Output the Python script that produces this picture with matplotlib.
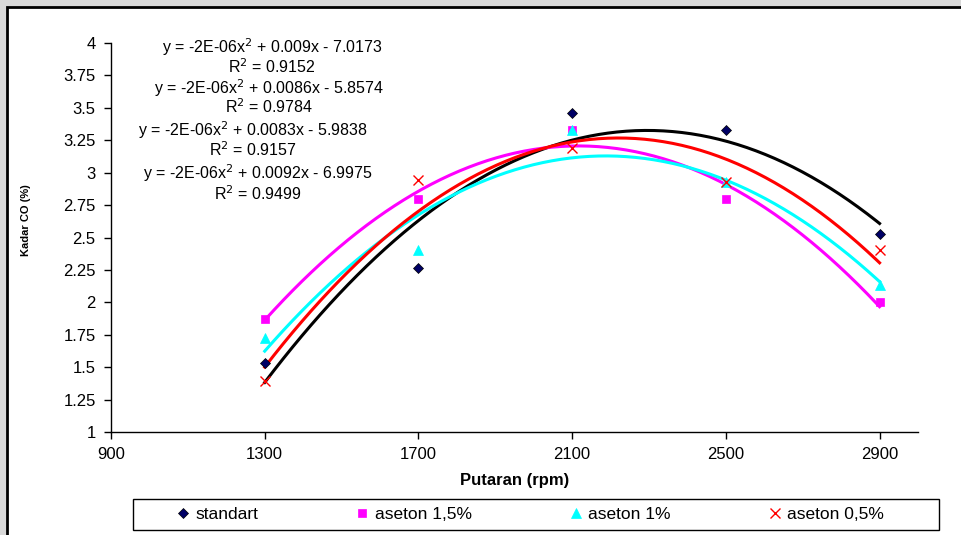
import matplotlib.pyplot as plt
import numpy as np
from matplotlib.patches import Rectangle

plt.rcParams["font.family"] = ["Liberation Sans", "DejaVu Sans"]

# data
putaran = np.array([1300, 1700, 2100, 2500, 2900])
standart = [1.53, 2.265, 3.46, 3.33, 2.53]
aseton_15 = [1.87, 2.80, 3.33, 2.80, 2.00]
aseton_1 = [1.725, 2.40, 3.33, 2.93, 2.13]
aseton_05 = [1.39, 2.94, 3.19, 2.93, 2.40]

labels = ["standart", "aseton 1,5%", "aseton 1%", "aseton 0,5%"]
series = [standart, aseton_15, aseton_1, aseton_05]

equations = [
    ("y = -2E-06x$^2$ + 0.009x - 7.0173", "R$^2$ = 0.9152"),
    ("y = -2E-06x$^2$ + 0.0086x - 5.8574", "R$^2$ = 0.9784"),
    ("y = -2E-06x$^2$ + 0.0083x - 5.9838", "R$^2$ = 0.9157"),
    ("y = -2E-06x$^2$ + 0.0092x - 6.9975", "R$^2$ = 0.9499"),
]

xticks = [900, 1300, 1700, 2100, 2500, 2900]
yticks = np.arange(1, 4.01, 0.25)

# styles
markers = ["D", "s", "^", "x"]
mcolors = ["#000066", "#FF00FF", "#00FFFF", "#FF0000"]
lcolors = ["#000000", "#FF00FF", "#00FFFF", "#FF0000"]
msizes = [5.5, 6, 7, 7]

fig = plt.figure(figsize=(9.61, 5.35), dpi=100)
fig.patch.set_facecolor("#d9d9d9")
# white chart area with black border on left/top
fig.patches.append(Rectangle((7 / 961, -0.05), 1.0, (535 - 7) / 535 + 0.05,
                             transform=fig.transFigure, facecolor="white",
                             edgecolor="black", linewidth=2, zorder=-5))
# legend box
fig.patches.append(Rectangle((133 / 961, 1 - 530 / 535), (939 - 133) / 961, 31 / 535,
                             transform=fig.transFigure, facecolor="white",
                             edgecolor="black", linewidth=1, zorder=-4))

ax = fig.add_axes([111 / 961, 103 / 535, (918 - 111) / 961, (492 - 103) / 535])
ax.patch.set_alpha(0)

xs = np.linspace(1300, 2900, 200)
handles = []
for vals, lab, mk, mc, lc, ms in zip(series, labels, markers, mcolors, lcolors, msizes):
    coef = np.polyfit(putaran, vals, 2)
    ax.plot(xs, np.polyval(coef, xs), color=lc, lw=2.2, zorder=2)
    if mk == "x":
        h, = ax.plot(putaran, vals, ls="none", marker=mk, color=mc, ms=ms,
                     mew=1.0, zorder=3, label=lab)
    else:
        h, = ax.plot(putaran, vals, ls="none", marker=mk, color=mc, ms=ms,
                     mec=mc if mk != "D" else "#000000", mew=0.5, zorder=3, label=lab)
    handles.append(h)

ax.set_xlim(900, 3000)
ax.set_ylim(1, 4)
ax.set_xticks(xticks)
ax.set_yticks(yticks)
ax.set_yticklabels([f"{v:g}" for v in yticks])
ax.tick_params(labelsize=12, length=5, width=1, direction="out", pad=6)
for s in ["top", "right"]:
    ax.spines[s].set_visible(False)
ax.spines["left"].set_linewidth(1)
ax.spines["bottom"].set_linewidth(1)

ax.set_xlabel("Putaran (rpm)", fontsize=12, fontweight="bold", labelpad=8)
fig.text(26 / 961, 1 - 220 / 535, "Kadar CO (%)", rotation=90, fontsize=8,
         fontweight="bold", ha="center", va="center")

# trendline equations
centers = [(272, 47, 67), (269, 88, 107), (253, 130, 150), (258, 173, 194)]
for (eq, r2), (cx, y1, y2) in zip(equations, centers):
    fig.text(cx / 961, 1 - y1 / 535, eq, fontsize=11.5, ha="center", va="center")
    fig.text(cx / 961, 1 - y2 / 535, r2, fontsize=11.5, ha="center", va="center")

leg = fig.legend(handles=handles, labels=labels, ncol=4, loc="center",
                 bbox_to_anchor=(530 / 961, 1 - 514.5 / 535),
                 fontsize=12.5, frameon=False,
                 handlelength=0.8, handletextpad=0.3, columnspacing=5.6,
                 borderaxespad=0)

fig.savefig("out.png", dpi=100, facecolor=fig.get_facecolor())
